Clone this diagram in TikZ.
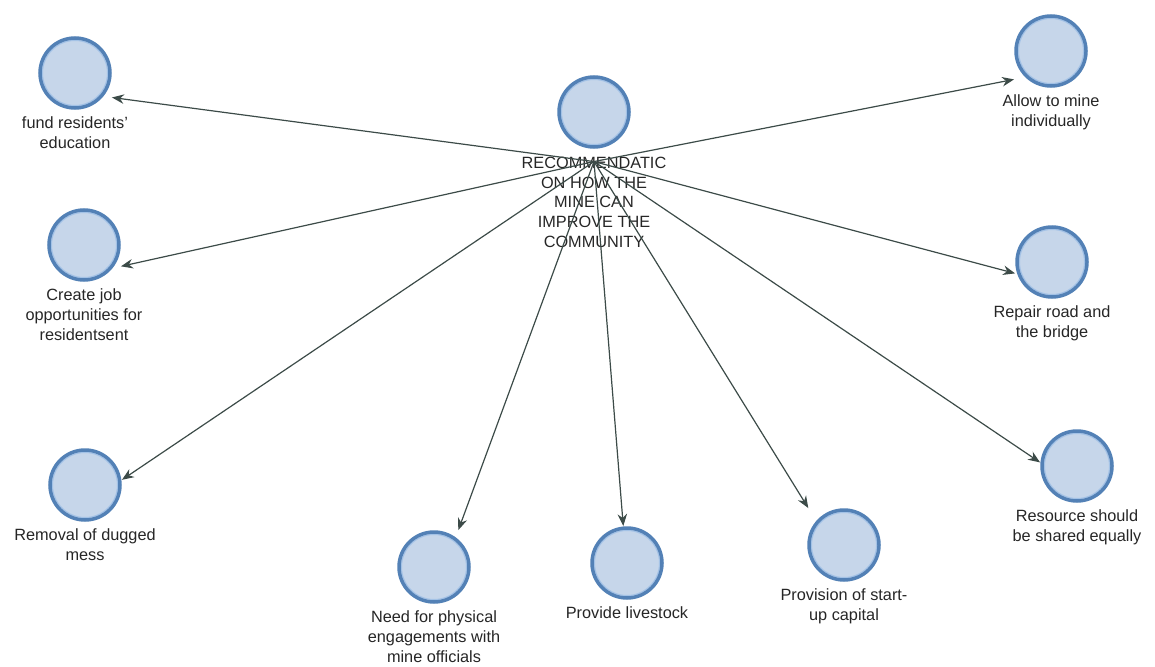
\documentclass[tikz,border=0pt]{standalone}
\usepackage{fontspec}
\setmainfont{Liberation Sans}
\usetikzlibrary{arrows.meta,positioning,fit}
\definecolor{nodefill}{HTML}{C6D6EA}
\definecolor{nodeline}{HTML}{5381B6}
\definecolor{noderim}{HTML}{A3C2E6}
\definecolor{edgeline}{HTML}{3C4B48}

\begin{document}
\begin{tikzpicture}[x=1pt,y=-1pt,
  circ/.style={circle,minimum size=70pt,inner sep=0,fill=nodefill,
    draw=nodeline,line width=3.5pt,
    path picture={\draw[noderim,line width=1.2pt]
      (path picture bounding box.center) circle (32.6pt);}},
  lbl/.style={align=center,inner sep=0,text=black!85,
    font=\fontsize{16.3}{19.8}\selectfont},
  grp/.style={inner sep=0},
  edge/.style={draw=edgeline,line width=1.2pt,-{Stealth[length=12pt,width=9.5pt]}}]
\useasboundingbox (0,0) rectangle (1155,666);
\node[circ] (hub) at (594,112) {};
\node[lbl, below=8pt of hub] (hub-l)
  {RECOMMENDATIC\\ON HOW THE\\MINE CAN\\IMPROVE THE\\COMMUNITY};
\node[grp, fit=(hub)(hub-l)] (hub-g) {};
% outer ring, arrows aim at circle+label
\foreach \n/\x/\y/\t in {
    fund/75/73/{fund residents'\\education},
    create/84/245/{Create job\\opportunities for\\residentsent},
    removal/85/485/{Removal of dugged\\mess},
    need/434/567/{Need for physical\\engagements with\\mine officials},
    livestock/627/563/{Provide livestock},
    capital/844/545/{Provision of start-\\up capital},
    resource/1077/466/{Resource should\\be shared equally},
    road/1052/262/{Repair road and\\the bridge},
    mine/1051/51/{Allow to mine\\individually}}{
  \node[circ] (\n) at (\x,\y) {};
  \node[lbl, below=7pt of \n] (\n-l) {\t};
  \node[grp, fit=(\n)(\n-l.south)] (\n-g) {};
  \draw[edge] (hub-g.center) -- (\n-g);
}
\end{tikzpicture}
\end{document}
